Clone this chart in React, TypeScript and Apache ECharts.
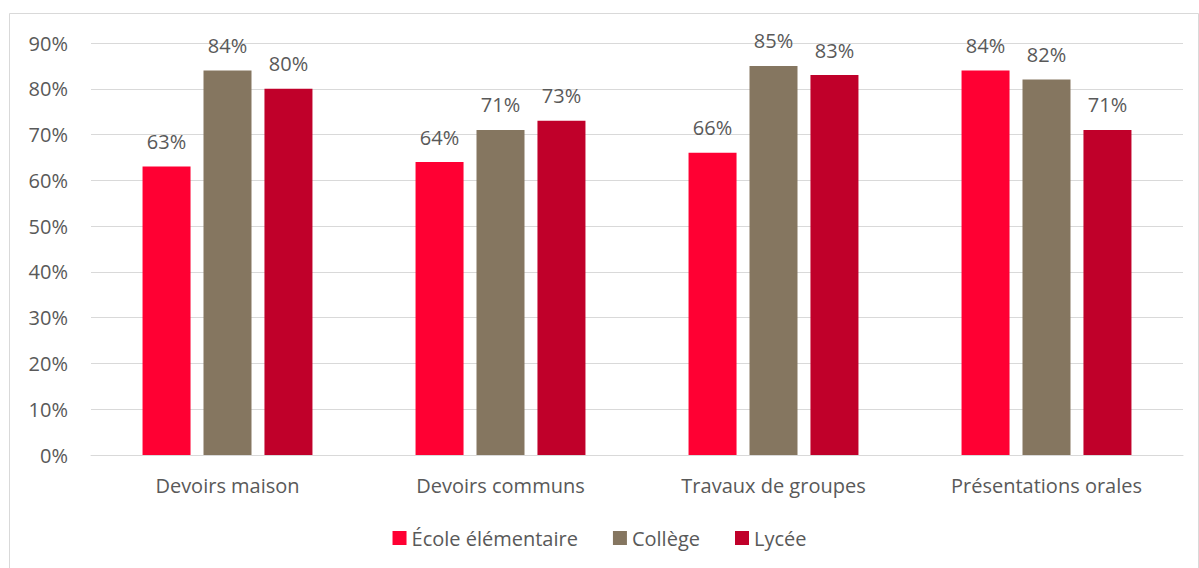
import React, { useEffect, useRef } from "react";
import * as echarts from "echarts";

const categories = ["Devoirs maison", "Devoirs communs", "Travaux de groupes", "Présentations orales"];
const seriesNames = ["École élémentaire", "Collège", "Lycée"];
const ecole = [63, 64, 66, 84];
const college = [84, 71, 85, 82];
const lycee = [80, 73, 83, 71];
const colors = ["#FF0033", "#857660", "#C0002A"];
const yTicks = { min: 0, max: 90, interval: 10 };

export default function App() {
  const ref = useRef<HTMLDivElement>(null);
  useEffect(() => {
    if (!ref.current) return;
    const chart = echarts.init(ref.current, undefined, { renderer: "svg" });
    const font = "'Open Sans', sans-serif";
    const textColor = "#595959";
    const values = [ecole, college, lycee];
    chart.setOption({
      animation: false,
      backgroundColor: "#ffffff",
      graphic: [
        {
          type: "rect",
          shape: { x: 9.5, y: 13.5, width: 1189, height: 570 },
          style: { fill: "none", stroke: "#D9D9D9", lineWidth: 1 },
          silent: true,
        },
      ],
      grid: { left: 91, right: 16, top: 43, bottom: 113, containLabel: false },
      legend: {
        bottom: 15,
        left: "center",
        icon: "rect",
        itemWidth: 14,
        itemHeight: 14,
        itemGap: 35,
        textStyle: { color: textColor, fontSize: 20, fontFamily: font },
        data: seriesNames,
      },
      xAxis: {
        type: "category",
        data: categories,
        axisLine: { lineStyle: { color: "#D9D9D9", width: 1 } },
        axisTick: { show: false },
        axisLabel: { color: textColor, fontSize: 20, fontFamily: font, margin: 20 },
      },
      yAxis: {
        type: "value",
        min: yTicks.min,
        max: yTicks.max,
        interval: yTicks.interval,
        axisLine: { show: false },
        axisTick: { show: false },
        axisLabel: { color: textColor, fontSize: 20, fontFamily: font, margin: 23, formatter: "{value}%" },
        splitLine: { lineStyle: { color: "#D9D9D9", width: 1 } },
      },
      series: seriesNames.map((name, i) => ({
        name,
        type: "bar",
        data: values[i],
        barWidth: 48,
        barGap: "27%",
        itemStyle: { color: colors[i] },
        label: {
          show: true,
          position: "top",
          distance: 15,
          formatter: "{c}%",
          color: textColor,
          fontSize: 20,
          fontFamily: font,
        },
      })),
    });
    return () => chart.dispose();
  }, []);
  return <div ref={ref} style={{ position: "absolute", left: 0, top: 0, width: 1199, height: 568 }} />;
}
